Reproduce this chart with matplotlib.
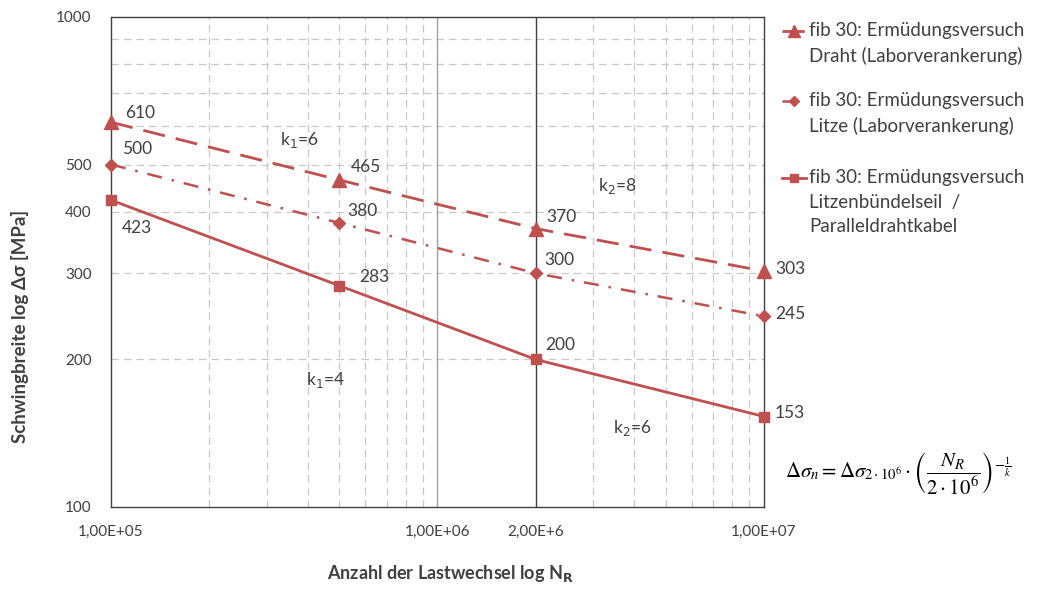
import matplotlib
matplotlib.use("Agg")
import matplotlib.pyplot as plt
from matplotlib.lines import Line2D

# data
n_cycles = [1e5, 5e5, 2e6, 1e7]
draht = [610, 465, 370, 303]
litze = [500, 380, 300, 245]
buendel = [423, 283, 200, 153]

legend_labels = [
    "fib 30: Ermüdungsversuch\nDraht (Laborverankerung)",
    "fib 30: Ermüdungsversuch\nLitze (Laborverankerung)",
    "fib 30: Ermüdungsversuch\nLitzenbündelseil  /\nParalleldrahtkabel",
]
xtick_vals = [1e5, 1e6, 2e6, 1e7]
xtick_labels = ["1,00E+05", "1,00E+06", "2,00E+6", "1,00E+07"]
ytick_vals = [100, 200, 300, 400, 500, 1000]
ygrid_vals = [200, 300, 400, 500, 600, 700, 800, 900]
xgrid_vals = [2e5, 3e5, 4e5, 5e5, 6e5, 7e5, 8e5, 9e5,
              3e6, 4e6, 5e6, 6e6, 7e6, 8e6, 9e6]

plt.rcParams['font.family'] = ['Lato', 'DejaVu Sans']
red = '#c0504d'
txt = '#404040'

fig = plt.figure(figsize=(10.4, 5.9), dpi=100)
ax = fig.add_axes([111/1040, 83/590, 653/1040, 490/590])
ax.set_xscale('log')
ax.set_yscale('log')
ax.set_xlim(1e5, 1e7)
ax.set_ylim(100, 1000)

for v in ygrid_vals:
    ax.axhline(v, color='#c8c8c8', lw=0.9, ls=(0, (6, 4)), zorder=0)
for v in xgrid_vals:
    ax.axvline(v, color='#c8c8c8', lw=0.9, ls=(0, (6, 4)), zorder=0)
ax.axvline(1e6, color='#a0a0a0', lw=1.0, zorder=0)
ax.axvline(2e6, color='#404040', lw=1.0, zorder=0)

styles = [
    dict(color=red, lw=2.0, ls=(0, (8, 4)), marker='^', ms=10),
    dict(color=red, lw=1.8, ls=(0, (6, 4, 1, 4)), marker='D', ms=6),
    dict(color=red, lw=2.0, ls='-', marker='s', ms=7),
]
for series, st in zip([draht, litze, buendel], styles):
    ax.plot(n_cycles, series, clip_on=False, zorder=3, **st)

# value labels
offsets = [
    [(29, 9), (27, 13), (26, 12), (26, 2)],
    [(26, 16), (23, 12), (24, 13), (26, 2)],
    [(26, -28), (35, 9), (24, 14), (26, 4)],
]
for series, offs in zip([draht, litze, buendel], offsets):
    for x, y, (dx, dy) in zip(n_cycles, series, offs):
        ax.annotate(str(y), (x, y), xytext=(dx, dy), textcoords='offset pixels',
                    ha='center', va='center', fontsize=12.5, color=txt,
                    annotation_clip=False)

for (px, py), s in zip([(0.289, 0.749), (0.328, 0.259), (0.776, 0.655), (0.799, 0.161)],
                       [r'k$_1$=6', r'k$_1$=4', r'k$_2$=8', r'k$_2$=6']):
    ax.text(px, py, s, transform=ax.transAxes, fontsize=12.5, color=txt,
            ha='center', va='center')

ax.set_xticks(xtick_vals)
ax.set_xticklabels(xtick_labels)
ax.set_xticks([], minor=True)
ax.set_yticks(ytick_vals)
ax.set_yticklabels([str(v) for v in ytick_vals])
ax.set_yticks([], minor=True)
ax.tick_params(axis='both', length=0, labelsize=11, colors=txt)
ax.tick_params(axis='x', pad=13)
ax.tick_params(axis='y', pad=14)
for s in ax.spines.values():
    s.set_color('#404040')
    s.set_linewidth(1.0)

fig.text(450/1040, 1 - 573/590, r'Anzahl der Lastwechsel log N$_\mathbf{R}$', fontsize=13,
         fontweight='bold', color=txt, ha='center', va='center')
fig.text(20/1040, 1 - 326/590, 'Schwingbreite log Δσ [MPa]', fontsize=13.5,
         fontweight='bold', color=txt, ha='center', va='center', rotation=90)

# legend drawn by hand so the key sits on the first text line
leg_y = [31, 101, 178]
for st, lab, y in zip(styles, legend_labels, leg_y):
    yf = 1 - y/590
    h = Line2D([782/1040, 806/1040], [yf, yf], transform=fig.transFigure,
               **{k: v for k, v in st.items() if k not in ('marker', 'ms')})
    fig.add_artist(h)
    m = Line2D([794/1040], [yf], transform=fig.transFigure, color=red,
               marker=st['marker'], ms=st['ms'] - 1, ls='none')
    fig.add_artist(m)
    fig.text(809/1040, yf + 9/590, lab, ha='left', va='top', fontsize=13.5,
             color=txt, linespacing=1.55)

fig.text(898/1040, 1 - 473/590,
         r'$\Delta\sigma_n = \Delta\sigma_{2\cdot10^6}\cdot\left(\dfrac{N_R}{2\cdot10^6}\right)^{-\frac{1}{k}}$',
         fontsize=15, ha='center', va='center', math_fontfamily='stix', color='black')

fig.savefig('out.png', dpi=100)
